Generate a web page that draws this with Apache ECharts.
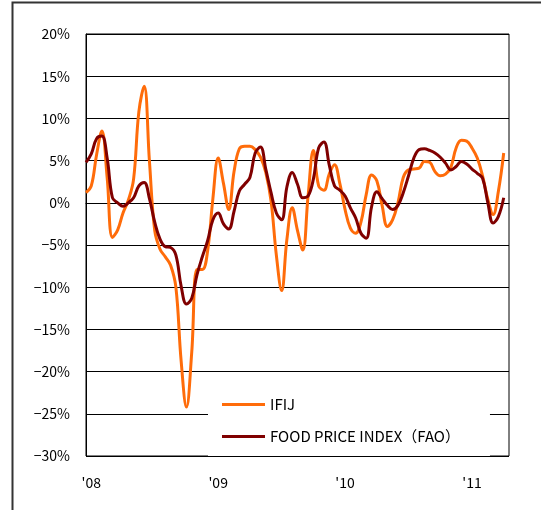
<!DOCTYPE html>
<html>
<head>
<meta charset="utf-8">
<script src="https://cdn.jsdelivr.net/npm/echarts@6/dist/echarts.min.js"></script>
<style>
  html, body { margin: 0; padding: 0; background: #fff; }
  #chart { width: 541px; height: 510px; }
</style>
</head>
<body>
<div id="chart"></div>
<script>
// half-month steps from Jan 2008; year labels sit on the first step of each year
var yearLabels = { 1: "'08", 25: "'09", 49: "'10", 73: "'11" };
var stepCount = 81;

var ifij = [
  1.2, 2.0, 5.7, 8.5, 3.0, -4.1, -3.2, -1.2, 0.3, 2.8,
  10.8, 13.8, 4.9, -3.3, -5.5, -6.4, -7.4, -10.0, -18.8, -24.2,
  -17.7, -7.9, -7.9, -5.7, 0.5, 5.3, 2.3, -0.8, 3.7, 6.4,
  6.7, 6.7, 6.3, 5.4, 3.6, 0.2, -6.2, -10.4, -4.3, -0.6,
  -3.3, -5.6, 0.8, 6.2, 2.0, 1.5, 3.4, 4.5, 2.3, -0.8,
  -3.0, -3.6, -2.3, 1.0, 3.3, 2.6, -0.3, -2.8, -2.0, 0.0,
  3.0, 3.9, 4.0, 4.1, 4.9, 4.8, 3.7, 3.2, 3.4, 4.2,
  6.5, 7.4, 7.3, 6.5, 5.3, 3.2, 0.4, -1.4, 1.4, 5.9
];

var fao = [
  4.8, 5.8, 7.6, 7.9, 5.3, 0.6, 0.0, -0.4, 0.0, 0.6,
  2.0, 2.4, 0.5, -2.3, -4.3, -5.2, -5.3, -6.2, -9.9, -12.0,
  -11.3, -8.5, -6.4, -4.5, -2.0, -1.2, -2.5, -3.1, -1.0, 1.4,
  2.2, 3.0, 5.9, 6.6, 4.0, 1.2, -1.2, -2.0, 1.9, 3.6,
  2.2, 0.6, 0.8, 2.8, 6.5, 7.2, 4.5, 2.0, 1.5, 0.8,
  -0.6, -1.8, -3.6, -4.2, -0.5, 1.3, 0.5, -0.3, -0.8, -0.3,
  1.2, 3.2, 5.3, 6.3, 6.4, 6.2, 5.9, 5.4, 4.7, 3.9,
  4.3, 4.9, 4.6, 4.0, 3.5, 2.9, 0.0, -2.4, -1.6, 0.6
];

var seriesNames = ['IFIJ', 'FOOD PRICE INDEX（FAO）'];

var steps = [];
for (var i = 0; i < stepCount; i++) {
  steps.push(yearLabels[i] || '');
}

var font = "'Noto Sans CJK JP', 'DejaVu Sans', sans-serif";

var option = {
  animation: false,
  backgroundColor: '#fff',
  textStyle: { fontFamily: font },
  graphic: [{
    type: 'rect',
    shape: { x: 12.5, y: 2.5, width: 700, height: 700 },
    style: { fill: 'none', stroke: '#333', lineWidth: 2 },
    silent: true
  }],
  grid: {
    left: 86, top: 34, right: 32, bottom: 54,
    show: true, borderColor: '#000', borderWidth: 1
  },
  legend: {
    orient: 'vertical',
    left: 208, top: 385,
    padding: [10, 30, 10, 14],
    icon: 'rect',
    itemWidth: 43, itemHeight: 3, itemGap: 13,
    backgroundColor: '#fff',
    textStyle: { fontSize: 15, color: '#000', fontFamily: font, lineHeight: 19 },
    data: seriesNames
  },
  xAxis: {
    type: 'category',
    data: steps,
    boundaryGap: false,
    axisLine: { lineStyle: { color: '#000', width: 1 } },
    axisTick: { show: false },
    axisLabel: { interval: 0, color: '#000', fontSize: 14, margin: 20, fontFamily: font },
    splitLine: { show: false }
  },
  yAxis: {
    type: 'value',
    min: -30, max: 20, interval: 5,
    axisLine: { show: true, lineStyle: { color: '#000', width: 1 } },
    axisTick: { show: false },
    axisLabel: {
      color: '#000', fontSize: 14, margin: 16, fontFamily: font,
      formatter: function (v) { return (v < 0 ? '−' + Math.abs(v) : v) + '%'; }
    },
    splitLine: { lineStyle: { color: '#000', width: 1 } }
  },
  series: [
    {
      name: seriesNames[0],
      type: 'line',
      data: ifij,
      symbol: 'none',
      smooth: 0.4,
      lineStyle: { color: '#ff6c0a', width: 3 },
      itemStyle: { color: '#ff6c0a' }
    },
    {
      name: seriesNames[1],
      type: 'line',
      data: fao,
      symbol: 'none',
      smooth: 0.4,
      lineStyle: { color: '#800000', width: 3 },
      itemStyle: { color: '#800000' }
    }
  ]
};

var chart = echarts.init(document.getElementById('chart'));
chart.setOption(option);
</script>
</body>
</html>
